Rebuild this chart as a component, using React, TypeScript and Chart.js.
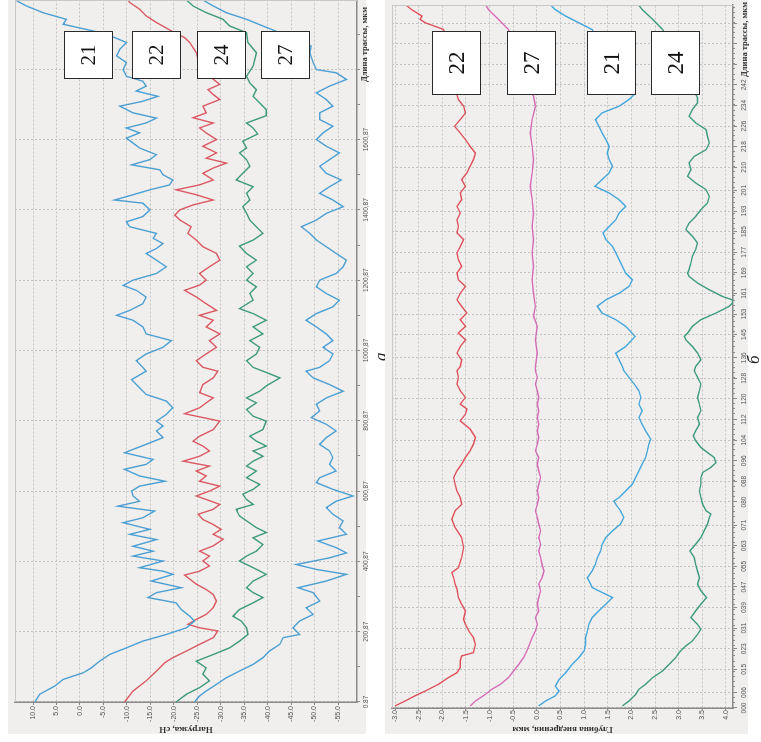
import React, { useEffect, useRef } from 'react';
import { Chart, registerables } from 'chart.js';

Chart.register(...registerables);

type Pt = [number, number];

// ================= Panel "а": load vs trace length =================
const loadLenTicks = [0.87, 100.87, 200.87, 300.87, 400.87, 500.87, 600.87, 700.87, 800.87, 900.87, 1000.87, 1100.87, 1200.87, 1300.87, 1400.87, 1500.87, 1600.87, 1700.87, 1800.87, 1900.87];
const loadLenLabels = ['0.87', '', '200,87', '', '400,87', '', '600,87', '', '800,87', '', '1000,87', '', '1200,87', '', '1400,87', '', '1600,87', '', '', ''];
const loadValTicks = [10, 5, 0, -5, -10, -15, -20, -25, -30, -35, -40, -45, -50, -55];
const loadSeriesNames = ['21', '22', '24', '27'];

const load21: Pt[] = [[1,9.6],[23,8.6],[46,5.4],[65,3.6],[84,-0.7],[98,-2.4],[117,-4.2],[136,-6.3],[155,-9.9],[174,-13.4],[193,-18.4],[212,-22.7],[231,-24.4],[245,-23.4],[264,-21.6],[283,-20.5],[298,-14.5],[312,-16.3],[326,-21.6],[345,-15.2],[364,-19.8],[373,-17.7],[383,-12.7],[402,-17.7],[416,-11.3],[430,-15.6],[444,-11.3],[463,-16.3],[478,-10.6],[492,-14.9],[511,-9.2],[525,-13.4],[544,-15.9],[558,-8.1],[572,-12.7],[587,-11.3],[601,-11.0],[615,-12.7],[629,-18.1],[644,-12.7],[663,-9.5],[677,-14.1],[691,-15.6],[710,-9.5],[734,-14.1],[753,-17.7],[772,-16.3],[786,-17.7],[800,-16.3],[819,-18.4],[838,-19.8],[857,-18.4],[876,-14.1],[895,-12.7],[918,-11.0],[942,-14.1],[953,-13.4],[972,-12.0],[991,-14.1],[1010,-17.7],[1029,-19.5],[1048,-14.1],[1068,-13.4],[1087,-11.3],[1101,-7.8],[1115,-10.6],[1134,-13.4],[1153,-14.1],[1172,-12.0],[1186,-9.2],[1201,-11.3],[1220,-16.3],[1239,-18.4],[1258,-16.3],[1277,-14.1],[1291,-16.3],[1305,-17.7],[1320,-15.6],[1334,-16.3],[1353,-10.6],[1367,-9.9],[1382,-13.4],[1401,-14.9],[1420,-13.4],[1429,-7.4],[1444,-11.3],[1458,-14.9],[1472,-19.1],[1486,-19.8],[1501,-17.7],[1515,-17.0],[1529,-11.0],[1544,-14.9],[1558,-16.3],[1577,-12.7],[1591,-11.3],[1605,-9.9],[1620,-12.7],[1634,-9.9],[1648,-14.1],[1662,-16.3],[1677,-11.3],[1696,-8.5],[1710,-13.4],[1724,-16.6],[1739,-12.0],[1753,-14.1],[1767,-13.4],[1781,-9.9],[1800,-9.2],[1820,-9.9],[1839,-7.8],[1858,-8.5],[1877,-9.9],[1891,-7.4],[1910,-2.8],[1929,3.6],[1943,2.9],[1962,7.9],[1981,11.4],[1998,13.8]];

const load22: Pt[] = [[1,-9.5],[32,-11.3],[61,-14.1],[89,-16.3],[113,-18.1],[127,-19.8],[146,-22.7],[165,-25.5],[184,-28.4],[203,-29.4],[212,-25.5],[222,-23.0],[236,-24.8],[250,-26.9],[269,-28.4],[288,-29.1],[307,-28.4],[321,-26.9],[336,-24.8],[362,-22.3],[373,-25.5],[388,-27.6],[402,-26.2],[416,-27.6],[430,-25.5],[445,-28.4],[464,-30.5],[478,-28.4],[492,-30.1],[506,-28.4],[520,-26.2],[535,-25.2],[549,-28.4],[563,-29.8],[577,-26.9],[587,-24.8],[601,-27.6],[615,-29.8],[629,-25.5],[644,-26.9],[658,-24.8],[672,-27.6],[686,-22.0],[700,-25.5],[715,-27.6],[729,-26.2],[743,-24.1],[757,-25.5],[776,-28.4],[800,-29.8],[821,-22.3],[838,-25.5],[852,-26.9],[866,-28.4],[881,-25.5],[904,-26.2],[923,-28.4],[942,-29.4],[953,-26.2],[972,-24.8],[991,-26.9],[1010,-29.1],[1029,-27.6],[1048,-29.8],[1068,-26.9],[1087,-28.4],[1101,-25.5],[1115,-29.1],[1134,-26.9],[1153,-24.8],[1172,-22.3],[1187,-25.5],[1201,-26.9],[1220,-25.5],[1239,-27.6],[1258,-29.8],[1277,-29.1],[1296,-26.2],[1315,-24.8],[1334,-23.0],[1353,-23.7],[1372,-21.3],[1386,-20.2],[1401,-21.3],[1415,-24.1],[1429,-28.4],[1444,-24.8],[1458,-20.5],[1472,-25.5],[1486,-28.4],[1505,-26.2],[1520,-28.4],[1534,-31.2],[1548,-26.9],[1563,-29.1],[1582,-26.2],[1601,-29.1],[1620,-26.9],[1634,-25.5],[1648,-28.4],[1663,-24.1],[1677,-26.9],[1696,-26.2],[1715,-29.8],[1729,-28.4],[1743,-27.3],[1758,-29.8],[1781,-27.6],[1810,-25.5],[1848,-24.8],[1877,-23.4],[1891,-22.3],[1910,-19.5],[1934,-16.3],[1953,-14.1],[1972,-12.7],[1991,-10.6],[1998,-10.2]];

const load24: Pt[] = [[1,-20.5],[23,-22.7],[42,-25.5],[61,-27.6],[80,-26.2],[98,-26.9],[117,-24.8],[136,-28.4],[155,-31.9],[174,-34.0],[193,-35.8],[212,-35.5],[231,-34.4],[245,-32.6],[264,-34.0],[283,-36.9],[298,-39.0],[312,-36.9],[326,-35.5],[345,-36.9],[364,-39.7],[383,-36.9],[402,-34.0],[416,-35.5],[430,-37.6],[449,-39.0],[468,-36.9],[483,-39.7],[497,-37.6],[516,-35.5],[530,-34.0],[549,-33.3],[563,-36.9],[577,-35.5],[592,-34.7],[606,-36.9],[620,-38.3],[639,-35.5],[658,-37.6],[672,-35.5],[686,-36.9],[700,-39.0],[715,-36.9],[729,-39.7],[743,-37.6],[757,-36.2],[776,-39.0],[800,-39.7],[814,-36.9],[833,-35.5],[852,-37.6],[866,-35.5],[885,-38.3],[900,-39.7],[923,-42.6],[942,-39.0],[953,-36.9],[972,-35.5],[991,-37.6],[1010,-38.3],[1029,-36.2],[1048,-39.0],[1068,-36.9],[1087,-39.7],[1106,-36.9],[1120,-34.0],[1144,-36.9],[1163,-36.2],[1182,-37.6],[1201,-35.5],[1220,-36.9],[1239,-35.5],[1258,-37.6],[1277,-35.5],[1298,-34.0],[1315,-36.9],[1334,-39.0],[1353,-37.6],[1372,-36.2],[1391,-35.5],[1410,-34.7],[1429,-36.2],[1448,-35.5],[1467,-36.9],[1486,-33.3],[1505,-34.7],[1525,-36.2],[1544,-35.5],[1563,-34.0],[1577,-35.5],[1596,-34.7],[1617,-37.9],[1634,-36.9],[1648,-35.5],[1669,-39.7],[1686,-39.7],[1705,-38.3],[1724,-36.9],[1743,-37.6],[1762,-36.2],[1781,-35.5],[1810,-36.9],[1848,-37.6],[1877,-35.8],[1905,-35.5],[1924,-31.9],[1943,-30.5],[1962,-26.9],[1981,-24.1],[1998,-22.7]];

const load27: Pt[] = [[1,-24.4],[18,-25.5],[32,-26.9],[51,-29.1],[70,-31.2],[89,-34.0],[108,-36.9],[127,-39.0],[146,-40.4],[165,-42.6],[184,-43.3],[193,-46.8],[212,-45.4],[231,-46.8],[250,-49.7],[269,-48.2],[288,-51.1],[312,-49.7],[326,-46.5],[345,-52.5],[364,-56.8],[378,-50.4],[392,-46.1],[411,-53.2],[425,-56.8],[440,-54.6],[459,-50.7],[478,-56.8],[497,-55.3],[516,-56.1],[535,-53.9],[554,-52.5],[572,-54.6],[587,-58.2],[606,-53.9],[625,-50.4],[639,-51.1],[658,-54.6],[677,-53.2],[696,-53.9],[715,-53.2],[734,-51.1],[753,-52.5],[772,-54.6],[791,-52.5],[810,-49.3],[829,-51.1],[848,-50.4],[866,-52.5],[885,-56.1],[904,-53.2],[923,-49.7],[942,-48.2],[953,-51.1],[972,-53.2],[991,-53.9],[1010,-51.8],[1029,-53.9],[1048,-52.5],[1068,-50.4],[1087,-48.2],[1106,-50.4],[1125,-53.9],[1144,-55.3],[1163,-52.5],[1182,-50.4],[1201,-51.1],[1220,-54.6],[1239,-56.1],[1258,-56.8],[1277,-54.6],[1296,-52.5],[1315,-50.4],[1334,-49.0],[1353,-47.2],[1372,-50.4],[1391,-52.5],[1410,-56.1],[1429,-53.9],[1448,-51.1],[1467,-53.2],[1486,-55.7],[1505,-52.5],[1525,-51.1],[1544,-53.2],[1563,-55.3],[1582,-52.5],[1601,-50.4],[1620,-51.8],[1639,-53.9],[1658,-51.1],[1677,-51.1],[1696,-53.9],[1715,-52.5],[1734,-50.4],[1753,-53.2],[1772,-56.8],[1791,-54.6],[1800,-50.4],[1820,-49.7],[1848,-49.0],[1867,-49.3],[1886,-45.4],[1905,-42.6],[1924,-39.0],[1943,-35.5],[1962,-31.2],[1981,-28.4],[1998,-26.2]];

// ================= Panel "б": penetration depth vs trace length =================
const depthLenTicks = [0, 6, 15, 23, 31, 39, 47, 55, 63, 71, 80, 88, 96, 104, 112, 120, 128, 136, 145, 153, 161, 169, 177, 185, 193, 201, 210, 218, 226, 234, 242, 250, 258, 266];
const depthLenLabels = ['000', '006', '015', '023', '031', '039', '047', '055', '063', '071', '080', '088', '096', '104', '112', '120', '128', '136', '145', '153', '161', '169', '177', '185', '193', '201', '210', '218', '226', '234', '242', '', '', ''];
const depthValTicks = [-3, -2.5, -2, -1.5, -1, -0.5, 0, 0.5, 1, 1.5, 2, 2.5, 3, 3.5, 4];
const depthSeriesNames = ['22', '27', '21', '24'];

const depth22: Pt[] = [[0.8,-3.0],[2.7,-2.79],[4.7,-2.58],[6.6,-2.36],[9.2,-2.08],[11.8,-1.87],[13.7,-1.69],[15.7,-1.62],[18.3,-1.62],[20.2,-1.59],[21.5,-1.34],[24.7,-1.30],[27.3,-1.34],[29.9,-1.44],[32.5,-1.51],[34.5,-1.55],[37.7,-1.51],[40.3,-1.59],[42.9,-1.66],[46.1,-1.69],[48.1,-1.73],[50.6,-1.76],[52.6,-1.80],[54.5,-1.66],[58.4,-1.59],[62.3,-1.55],[66.2,-1.59],[70.1,-1.73],[73.3,-1.80],[76.6,-1.73],[79.1,-1.59],[81.7,-1.62],[84.3,-1.69],[86.9,-1.73],[89.5,-1.76],[92.1,-1.69],[94.7,-1.59],[97.3,-1.51],[99.9,-1.41],[102.5,-1.34],[105.1,-1.30],[108.3,-1.41],[111.5,-1.62],[114.1,-1.51],[116.1,-1.48],[118.0,-1.62],[120.6,-1.51],[123.2,-1.62],[125.8,-1.69],[128.4,-1.66],[131.0,-1.69],[132.6,-1.62],[135.2,-1.59],[137.8,-1.69],[140.4,-1.62],[143.0,-1.51],[145.6,-1.66],[148.2,-1.51],[150.8,-1.62],[153.4,-1.48],[156.0,-1.59],[158.5,-1.69],[161.1,-1.62],[163.7,-1.51],[166.3,-1.66],[168.9,-1.69],[171.5,-1.59],[174.1,-1.66],[176.7,-1.69],[179.3,-1.62],[181.9,-1.55],[184.5,-1.69],[187.0,-1.66],[189.6,-1.69],[192.2,-1.62],[194.8,-1.69],[197.4,-1.59],[200.0,-1.62],[202.6,-1.51],[205.2,-1.59],[207.8,-1.48],[210.4,-1.41],[213.0,-1.34],[215.5,-1.30],[218.1,-1.41],[220.7,-1.51],[223.3,-1.62],[225.9,-1.74],[228.5,-1.62],[231.1,-1.51],[233.7,-1.55],[236.3,-1.66],[238.2,-1.69],[263.5,-1.97],[266.1,-2.36],[267.4,-2.47],[268.7,-2.43],[271.2,-2.65],[273.8,-2.82]];

const depth27: Pt[] = [[0.8,-1.41],[2.7,-1.30],[5.3,-1.09],[7.3,-0.95],[9.2,-0.77],[11.8,-0.60],[14.4,-0.49],[17.0,-0.38],[19.6,-0.28],[22.2,-0.21],[24.1,-0.17],[27.3,-0.10],[29.9,-0.03],[32.5,0.01],[35.1,-0.03],[37.7,0.04],[40.3,0.01],[42.9,0.04],[45.5,0.08],[48.1,0.04],[50.6,0.11],[53.2,0.15],[55.8,0.11],[58.4,0.08],[61.0,0.04],[63.6,0.08],[66.2,0.04],[68.8,0.08],[71.4,0.04],[74.0,0.01],[76.6,-0.03],[79.1,0.01],[81.7,0.04],[84.3,0.01],[86.9,0.04],[89.5,0.08],[92.1,0.04],[94.7,0.01],[97.3,0.04],[99.9,-0.03],[102.5,0.01],[105.1,0.04],[107.6,0.01],[110.2,0.04],[112.8,0.01],[115.4,0.04],[118.0,0.01],[120.6,0.04],[123.2,0.01],[125.8,-0.03],[128.4,0.01],[131.0,-0.03],[132.6,-0.03],[137.8,0.01],[143.0,-0.03],[148.2,0.01],[152.1,-0.07],[156.0,-0.03],[161.1,-0.07],[166.3,-0.10],[171.5,-0.07],[176.7,-0.10],[181.9,-0.07],[187.0,-0.10],[192.2,-0.07],[197.4,-0.10],[202.6,-0.14],[207.8,-0.10],[213.0,-0.07],[218.1,-0.10],[223.3,-0.14],[228.5,-0.10],[233.7,-0.03],[237.6,-0.07],[263.5,-0.60],[267.4,-0.81],[271.2,-1.02],[275.1,-1.16]];

const depth21: Pt[] = [[0.8,0.04],[2.7,0.18],[4.7,0.39],[6.6,0.47],[8.5,0.39],[11.1,0.47],[13.7,0.61],[17.0,0.75],[19.6,0.89],[22.2,1.00],[24.7,1.03],[27.3,1.03],[29.9,1.07],[32.5,1.10],[35.1,1.17],[37.7,1.31],[40.3,1.46],[42.9,1.60],[45.5,1.31],[46.8,1.17],[48.1,1.14],[50.6,1.07],[53.2,1.17],[55.8,1.24],[58.4,1.28],[61.0,1.35],[63.6,1.38],[66.2,1.46],[68.8,1.60],[71.4,1.77],[74.0,1.84],[76.6,1.77],[79.1,1.67],[80.4,1.63],[81.7,1.74],[84.3,1.88],[86.9,2.02],[89.5,2.09],[92.1,2.16],[94.7,2.23],[97.3,2.30],[99.9,2.34],[102.5,2.37],[104.4,2.41],[107.6,2.30],[110.2,2.23],[112.8,2.16],[115.4,2.23],[118.0,2.16],[120.6,2.20],[123.2,2.16],[125.8,2.06],[128.4,1.95],[131.0,1.84],[132.6,1.81],[135.2,1.74],[137.8,1.67],[140.4,1.88],[144.3,2.08],[148.2,1.88],[150.8,1.67],[153.4,1.38],[156.0,1.28],[158.5,1.46],[161.1,1.74],[163.7,1.95],[166.3,2.02],[168.9,1.88],[171.5,1.81],[174.1,1.74],[176.7,1.67],[179.3,1.60],[181.9,1.46],[184.5,1.40],[187.0,1.53],[189.6,1.67],[192.2,1.74],[194.8,1.88],[197.4,1.74],[200.0,1.53],[202.6,1.23],[205.2,1.38],[207.8,1.53],[210.4,1.60],[213.0,1.53],[215.5,1.49],[218.1,1.53],[220.7,1.46],[223.3,1.38],[225.9,1.31],[228.5,1.24],[231.1,1.38],[233.7,1.74],[236.3,1.95],[238.2,2.06],[263.5,1.17],[266.1,0.89],[268.7,0.61],[271.2,0.39],[273.8,0.25]];

const depth24: Pt[] = [[0.8,1.81],[2.7,1.95],[5.3,2.09],[7.3,2.16],[9.2,2.30],[11.8,2.45],[14.4,2.66],[17.0,2.80],[19.6,2.94],[21.5,3.01],[24.1,3.15],[26.0,3.29],[28.6,3.40],[30.6,3.47],[32.5,3.40],[35.1,3.26],[37.7,3.36],[40.3,3.47],[42.9,3.59],[45.5,3.47],[48.1,3.40],[50.6,3.44],[53.2,3.40],[55.8,3.36],[58.4,3.33],[61.0,3.24],[63.6,3.36],[66.2,3.47],[68.8,3.54],[71.4,3.61],[74.0,3.65],[75.3,3.68],[76.6,3.58],[79.1,3.51],[81.7,3.47],[84.3,3.44],[86.9,3.47],[89.5,3.47],[91.5,3.51],[93.4,3.68],[95.3,3.79],[97.3,3.75],[99.2,3.61],[101.2,3.47],[103.8,3.36],[105.7,3.31],[107.6,3.36],[110.2,3.44],[112.8,3.40],[115.4,3.47],[118.0,3.44],[120.6,3.40],[123.2,3.44],[125.8,3.47],[128.4,3.40],[131.0,3.33],[132.6,3.36],[135.2,3.47],[137.8,3.40],[140.4,3.29],[143.0,3.15],[144.3,3.12],[145.6,3.19],[148.2,3.29],[150.8,3.47],[153.4,3.79],[156.0,4.07],[157.3,4.14],[158.5,4.14],[159.8,3.93],[162.4,3.65],[165.0,3.40],[167.6,3.22],[168.9,3.19],[170.2,3.22],[172.8,3.26],[175.4,3.29],[178.0,3.36],[180.6,3.40],[183.2,3.29],[185.8,3.15],[188.3,3.22],[190.9,3.36],[193.5,3.47],[196.1,3.61],[198.7,3.65],[201.3,3.58],[203.9,3.36],[206.5,3.19],[209.1,3.26],[211.7,3.22],[214.2,3.33],[216.8,3.58],[219.4,3.65],[222.0,3.61],[224.6,3.58],[227.2,3.36],[229.8,3.22],[232.4,3.29],[235.0,3.40],[236.9,3.40],[263.5,2.66],[267.4,2.45],[271.2,2.23],[275.1,2.06]];

// ================= Rendering =================
type Box = { text: string; u: number; v: number; w: number; h: number; fs: number };
type Spec = {
  W: number; H: number; bgH: number; offsetX: number;
  padTop: number; padRight: number; yWidth: number; xHeight: number;
  xMin: number; xMax: number; yMin: number; yMax: number; reverse: boolean;
  xTicks: number[]; xLabels: string[]; xGridEvery: number;
  yTicks: number[]; yTitle: string;
  xTickLen: number; xTickPad: number; yTickLen: number; yTickPad: number;
  endLabel: string; endU: number; endV: number; minorStep: number;
  series: { data: Pt[]; color: string; name: string }[];
  boxes: Box[];
  caption: string; capU: number; capV: number;
};

const GRID = '#c3c3c3';
const AXIS = '#8a8a8a';

const framePlugin = {
  id: 'frame',
  afterDraw(chart: any, _args: any, opts: any) {
    const { ctx, chartArea: a } = chart;
    ctx.save();
    ctx.strokeStyle = '#c8c8c8';
    ctx.lineWidth = 1;
    ctx.beginPath();
    ctx.moveTo(a.left, a.top + 0.5);
    ctx.lineTo(a.right, a.top + 0.5);
    ctx.moveTo(a.right - 0.5, a.top);
    ctx.lineTo(a.right - 0.5, a.bottom);
    ctx.stroke();
    if (opts.minorStep) {
      const xs = chart.scales.x;
      ctx.strokeStyle = AXIS;
      ctx.beginPath();
      for (let v = xs.min; v <= xs.max; v += opts.minorStep) {
        const px = Math.round(xs.getPixelForValue(v)) + 0.5;
        ctx.moveTo(px, a.bottom);
        ctx.lineTo(px, a.bottom + 2);
      }
      ctx.stroke();
    }
    ctx.font = 'bold 8.5px "Liberation Serif", serif';
    ctx.fillStyle = '#333';
    ctx.textAlign = 'left';
    ctx.textBaseline = 'middle';
    ctx.fillText(opts.endLabel, opts.endU, opts.endV);
    ctx.restore();
  },
};

function buildConfig(s: Spec): any {
  return {
    type: 'line',
    data: {
      datasets: s.series.map((sr) => ({
        label: sr.name,
        data: sr.data.map(([x, y]) => ({ x, y })),
        borderColor: sr.color,
        borderWidth: 1.4,
        pointRadius: 0,
        tension: 0,
        fill: false,
      })),
    },
    options: {
      responsive: false,
      animation: false,
      devicePixelRatio: 1,
      layout: { padding: { top: s.padTop, right: s.padRight, left: 0, bottom: 0 } },
      plugins: {
        legend: { display: false },
        tooltip: { enabled: false },
        frame: { endLabel: s.endLabel, endU: s.endU, endV: s.endV, minorStep: s.minorStep },
      },
      scales: {
        x: {
          type: 'linear',
          position: 'bottom',
          min: s.xMin,
          max: s.xMax,
          afterBuildTicks: (sc: any) => { sc.ticks = s.xTicks.map((v) => ({ value: v })); },
          afterFit: (sc: any) => { sc.height = s.xHeight; sc.paddingLeft = 0; sc.paddingRight = 0; },
          ticks: {
            autoSkip: false, maxRotation: 0, minRotation: 0,
            padding: s.xTickPad,
            color: '#555',
            font: { family: 'Liberation Sans', size: 6.5 },
            callback: (_v: any, i: number) => s.xLabels[i] ?? '',
          },
          grid: {
            color: (c: any) => (c.index % s.xGridEvery === 0 ? GRID : 'rgba(0,0,0,0)'),
            tickColor: AXIS,
            tickLength: s.xTickLen,
            lineWidth: 1,
          },
          border: { display: true, color: AXIS, width: 1.5, dash: [2, 2] },
        },
        y: {
          type: 'linear',
          position: 'left',
          min: s.yMin,
          max: s.yMax,
          reverse: s.reverse,
          afterBuildTicks: (sc: any) => { sc.ticks = s.yTicks.map((v) => ({ value: v })); },
          afterFit: (sc: any) => { sc.width = s.yWidth; sc.paddingTop = 0; sc.paddingBottom = 0; },
          ticks: {
            padding: s.yTickPad,
            color: '#555',
            font: { family: 'Liberation Sans', size: 7 },
            callback: (v: any) => Number(v).toFixed(1),
          },
          grid: { color: GRID, tickColor: AXIS, tickLength: s.yTickLen, lineWidth: 1 },
          border: { display: true, color: AXIS, width: 1.5, dash: [2, 2] },
          title: {
            display: true,
            text: s.yTitle,
            color: '#333',
            font: { family: 'Liberation Serif', size: 9, weight: 'bold' },
            padding: { top: 7, bottom: 0 },
          },
        },
      },
    },
    plugins: [framePlugin],
  };
}

function ChartCanvas({ spec }: { spec: Spec }) {
  const ref = useRef<HTMLCanvasElement>(null);
  useEffect(() => {
    if (!ref.current) return;
    const chart = new Chart(ref.current, buildConfig(spec));
    return () => chart.destroy();
  }, [spec]);
  return (
    <canvas
      ref={ref}
      width={spec.W}
      height={spec.H}
      style={{ position: 'absolute', left: 0, top: 0, width: spec.W, height: spec.H }}
    />
  );
}

function Panel({ spec }: { spec: Spec }) {
  return (
    <div
      style={{
        position: 'absolute', left: spec.offsetX, top: 0, width: spec.W, height: spec.H,
        transformOrigin: '0 0', transform: 'translateY(742px) rotate(-90deg)',
      }}
    >
      <div style={{ position: 'absolute', left: 8, top: 0, width: spec.W - 8, height: spec.bgH, background: '#f0efed' }} />
      <ChartCanvas spec={spec} />
      {spec.boxes.map((b) => (
        <div
          key={b.text}
          style={{
            position: 'absolute', left: b.u, top: b.v, width: b.w, height: b.h,
            background: '#ffffff', border: '1.6px solid #2a2a2a', boxSizing: 'border-box',
            display: 'flex', alignItems: 'center', justifyContent: 'center',
            fontFamily: '"Liberation Serif", serif', fontSize: b.fs, color: '#111', lineHeight: 1,
          }}
        >
          {b.text}
        </div>
      ))}
      <div
        style={{
          position: 'absolute', left: spec.capU, top: spec.capV,
          fontFamily: '"Liberation Serif", serif', fontStyle: 'italic', fontSize: 17, lineHeight: '17px', color: '#222',
        }}
      >
        {spec.caption}
      </div>
    </div>
  );
}

const loadColors = ['#4c9fd3', '#db5863', '#3f9a7d', '#4c9fd3'];
const depthColors = ['#df525c', '#d56db6', '#44a6db', '#3f9b80'];

const specA: Spec = {
  W: 742, H: 372, bgH: 358, offsetX: 8,
  padTop: 7, padRight: 0, yWidth: 40, xHeight: 23,
  xMin: 0.87, xMax: 1998, yMin: -59.05, yMax: 13.85, reverse: false,
  xTicks: loadLenTicks, xLabels: loadLenLabels, xGridEvery: 2,
  yTicks: loadValTicks, yTitle: 'Нагрузка, сН',
  xTickLen: 3, xTickPad: 2, yTickLen: 3, yTickPad: 1,
  endLabel: 'Длина трассы, мкм', endU: 660, endV: 357, minorStep: 0,
  series: [load21, load22, load24, load27].map((d, i) => ({ data: d, color: loadColors[i], name: loadSeriesNames[i] })),
  boxes: [
    { text: '21', u: 663, v: 56, w: 48, h: 49, fs: 21 },
    { text: '22', u: 663, v: 124, w: 48, h: 49, fs: 21 },
    { text: '24', u: 663, v: 189, w: 48, h: 49, fs: 21 },
    { text: '27', u: 663, v: 253, w: 48, h: 49, fs: 21 },
  ],
  caption: 'а', capU: 381, capV: 364,
};

const specB: Spec = {
  W: 742, H: 376, bgH: 363, offsetX: 385,
  padTop: 7, padRight: 5, yWidth: 34, xHeight: 28,
  xMin: 0, xMax: 273, yMin: -3.064, yMax: 4.15, reverse: true,
  xTicks: depthLenTicks, xLabels: depthLenLabels, xGridEvery: 1,
  yTicks: depthValTicks, yTitle: 'Глубина внедрения, мкм',
  xTickLen: 4, xTickPad: 3, yTickLen: 2, yTickPad: 0,
  endLabel: 'Длина трассы, мкм', endU: 665, endV: 360, minorStep: 2,
  series: [depth22, depth27, depth21, depth24].map((d, i) => ({ data: d, color: depthColors[i], name: depthSeriesNames[i] })),
  boxes: [
    { text: '22', u: 647, v: 47, w: 64, h: 49, fs: 23 },
    { text: '27', u: 647, v: 122, w: 64, h: 49, fs: 23 },
    { text: '21', u: 647, v: 202, w: 64, h: 49, fs: 23 },
    { text: '24', u: 647, v: 266, w: 64, h: 49, fs: 23 },
  ],
  caption: 'б', capU: 378, capV: 360,
};

export default function App() {
  return (
    <div style={{ position: 'fixed', left: 0, top: 0, width: 761, height: 742, overflow: 'hidden', background: '#ffffff' }}>
      <Panel spec={specA} />
      <Panel spec={specB} />
    </div>
  );
}
